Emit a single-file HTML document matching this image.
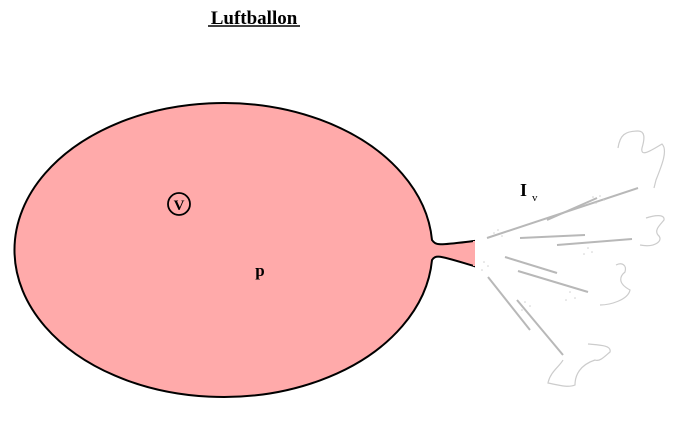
<!DOCTYPE html>
<html><head><meta charset="utf-8"><style>
html,body{margin:0;padding:0;background:#fff;}
body{width:690px;height:424px;overflow:hidden;}
</style></head><body>
<svg width="690" height="424" viewBox="0 0 690 424" xmlns="http://www.w3.org/2000/svg">
<path d="M432,240 C436,246 440,245 474,241 L474,266 C440,256 436,254 432,260 A209,147 0 1 1 432,240 Z" fill="#ffaaaa" stroke="#000" stroke-width="2"/>
<line x1="474" y1="241" x2="474" y2="266" stroke="#ffaaaa" stroke-width="2"/>
<text x="254" y="24" font-family="Liberation Serif, serif" font-weight="bold" font-size="19" text-anchor="middle">Luftballon</text>
<line x1="208" y1="26" x2="300" y2="26" stroke="#000" stroke-width="1.5"/>
<circle cx="179" cy="204" r="11" fill="none" stroke="#000" stroke-width="1.8"/>
<text x="179" y="210" font-family="Liberation Serif, serif" font-weight="bold" font-size="15" text-anchor="middle">V</text>
<text x="260" y="276" font-family="Liberation Serif, serif" font-weight="bold" font-size="17" text-anchor="middle">p</text>
<text x="520" y="196" font-family="Liberation Serif, serif" font-weight="bold" font-size="18">I</text>
<text x="532" y="201" font-family="Liberation Serif, serif" font-size="11">v</text>
<g stroke="#b8b8b8" stroke-width="2" fill="none">
<line x1="487" y1="238" x2="638" y2="188"/>
<line x1="547" y1="220" x2="597" y2="198"/>
<line x1="520" y1="238" x2="585" y2="235"/>
<line x1="557" y1="245" x2="632" y2="239"/>
<line x1="505" y1="257" x2="557" y2="273"/>
<line x1="518" y1="271" x2="588" y2="292"/>
<line x1="488" y1="277" x2="530" y2="330"/>
<line x1="517" y1="300" x2="563" y2="355"/>
</g>
<g stroke="#cccccc" stroke-width="1.2" fill="none">
<path d="M618,148 C620,135 625,131 638,131 C645,131 645,138 642,148 C640,158 652,150 662,144 C668,150 662,165 656,180 L654,188"/>
<path d="M646,218 C655,215 665,214 664,220 C660,225 654,230 658,235 C664,240 656,248 640,245"/>
<path d="M616,265 C622,262 627,265 625,272 C620,276 617,283 630,290 C628,300 610,305 600,305"/>
<path d="M588,344 C598,345 612,345 610,352 C605,356 600,362 595,360 C580,365 575,375 575,385 C568,388 558,385 548,383 C550,372 560,366 563,360"/>
</g>
<g fill="#d0d0d0">
<circle cx="600" cy="196" r="0.8"/><circle cx="604" cy="200" r="0.8"/><circle cx="596" cy="203" r="0.8"/><circle cx="593" cy="197" r="0.8"/>
<circle cx="498" cy="230" r="0.8"/><circle cx="502" cy="236" r="0.8"/><circle cx="494" cy="233" r="0.8"/>
<circle cx="588" cy="248" r="0.8"/><circle cx="592" cy="252" r="0.8"/><circle cx="584" cy="254" r="0.8"/>
<circle cx="570" cy="292" r="0.8"/><circle cx="575" cy="298" r="0.8"/><circle cx="566" cy="300" r="0.8"/>
<circle cx="525" cy="302" r="0.8"/><circle cx="530" cy="306" r="0.8"/><circle cx="522" cy="310" r="0.8"/>
<circle cx="484" cy="262" r="0.8"/><circle cx="488" cy="266" r="0.8"/><circle cx="482" cy="270" r="0.8"/>
</g>
</svg>
</body></html>
